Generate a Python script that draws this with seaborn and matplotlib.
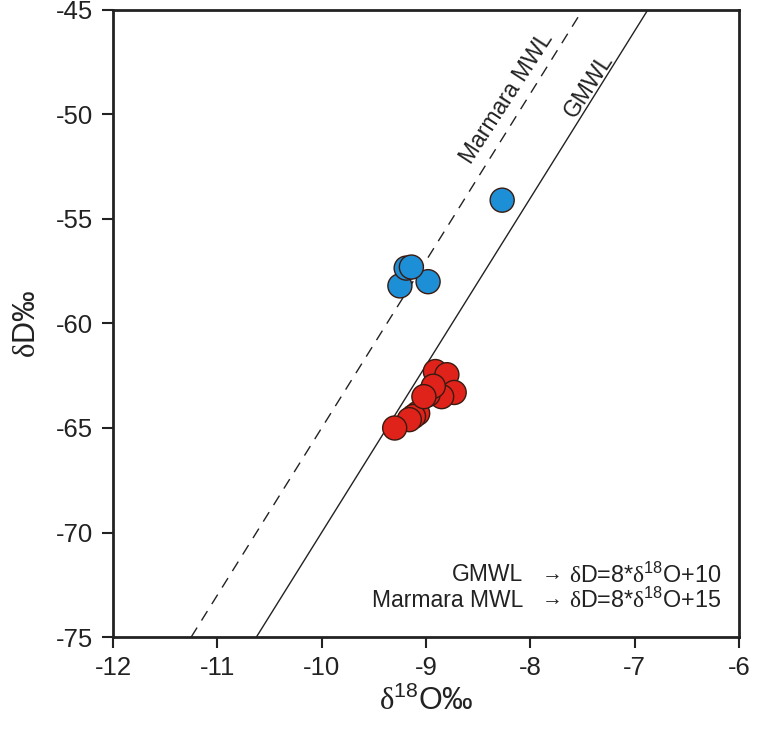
import numpy as np
import pandas as pd
import matplotlib
matplotlib.use("Agg")
import matplotlib.pyplot as plt
import seaborn as sns

# --- data ---
blue_d18o = [-8.27, -8.98, -9.25, -9.19, -9.14]
blue_dd = [-54.1, -58.0, -58.2, -57.35, -57.3]

red_d18o = [-8.91, -8.80, -8.73, -8.85, -8.98, -8.93, -9.08, -9.12, -9.16, -9.30, -9.02]
red_dd = [-62.3, -62.45, -63.3, -63.5, -63.4, -63.0, -64.3, -64.45, -64.6, -65.0, -63.5]

# meteoric water lines: dD = slope * d18O + intercept
gmwl_slope, gmwl_intercept = 8, 10
mmwl_slope, mmwl_intercept = 8, 15

xticks = [-12, -11, -10, -9, -8, -7, -6]
yticks = [-45, -50, -55, -60, -65, -70, -75]

sns.set_theme(style="white")
plt.rcParams["font.family"] = ["Liberation Sans", "DejaVu Sans"]
plt.rcParams["mathtext.fontset"] = "custom"
plt.rcParams["mathtext.rm"] = "Liberation Sans"
plt.rcParams["mathtext.it"] = "Liberation Sans"
plt.rcParams["mathtext.sf"] = "Liberation Serif"

fig = plt.figure(figsize=(7.58, 7.44), dpi=100)
ax = fig.add_axes([0.149, 0.1438, 0.826, 0.8428])

# lines
gx = np.array([-10.625, -6.875])
mx = np.array([-11.25, -7.52])
sns.lineplot(x=gx, y=gmwl_slope * gx + gmwl_intercept, ax=ax, color="#222222", lw=1.0)
sns.lineplot(x=mx, y=mmwl_slope * mx + mmwl_intercept, ax=ax, color="#222222", lw=1.0,
             linestyle=(0, (8, 6)))

df = pd.DataFrame({
    "d18O": blue_d18o + red_d18o,
    "dD": blue_dd + red_dd,
    "grp": ["blue"] * len(blue_d18o) + ["red"] * len(red_d18o),
})
sns.scatterplot(data=df, x="d18O", y="dD", hue="grp",
                palette={"blue": "#1D8FD6", "red": "#DF231B"},
                s=300, edgecolor="#3a1a10", linewidth=1.0, legend=False, ax=ax, zorder=3)

ax.set_xlim(-12, -6)
ax.set_ylim(-75, -45)
ax.set_xticks(xticks)
ax.set_yticks(yticks)
ax.set_xticklabels([str(t) for t in xticks])
ax.set_yticklabels([str(t) for t in yticks])
ax.tick_params(axis="both", direction="out", length=8, width=1.5, labelsize=18.5,
               bottom=True, left=True, top=False, right=False, colors="#222222",
               labelcolor="#222222", pad=6)
for sp in ax.spines.values():
    sp.set_linewidth(2.0)
    sp.set_color("#222222")

ax.set_xlabel(r"$\mathsf{δ}^{18}$O‰", fontsize=22, color="#222222", labelpad=4)
ax.set_ylabel(r"$\mathsf{δ}$D‰", fontsize=22, color="#222222", labelpad=10)

# line labels
ax.text(-8.23, -49.2, "Marmara MWL", rotation=57, rotation_mode="anchor",
        ha="center", va="center", fontsize=16.5, color="#222222")
ax.text(-7.44, -48.6, "GMWL", rotation=57, rotation_mode="anchor",
        ha="center", va="center", fontsize=16.5, color="#222222")

# equation legend
names = ["GMWL", "Marmara MWL"]
eqs = [r"$\mathsf{δ}$D=8*$\mathsf{δ}^{18}$O+10", r"$\mathsf{δ}$D=8*$\mathsf{δ}^{18}$O+15"]
ys = [0.099, 0.059]
for nm, eq, yy in zip(names, eqs, ys):
    ax.text(0.655, yy, nm, transform=ax.transAxes, ha="right", va="center", fontsize=16.5, color="#222222")
    ax.text(0.701, yy, "→", transform=ax.transAxes, ha="center", va="center", fontsize=15, color="#222222")
    ax.text(0.728, yy, eq, transform=ax.transAxes, ha="left", va="center", fontsize=16.8, color="#222222")

fig.savefig("out.png", dpi=100)
